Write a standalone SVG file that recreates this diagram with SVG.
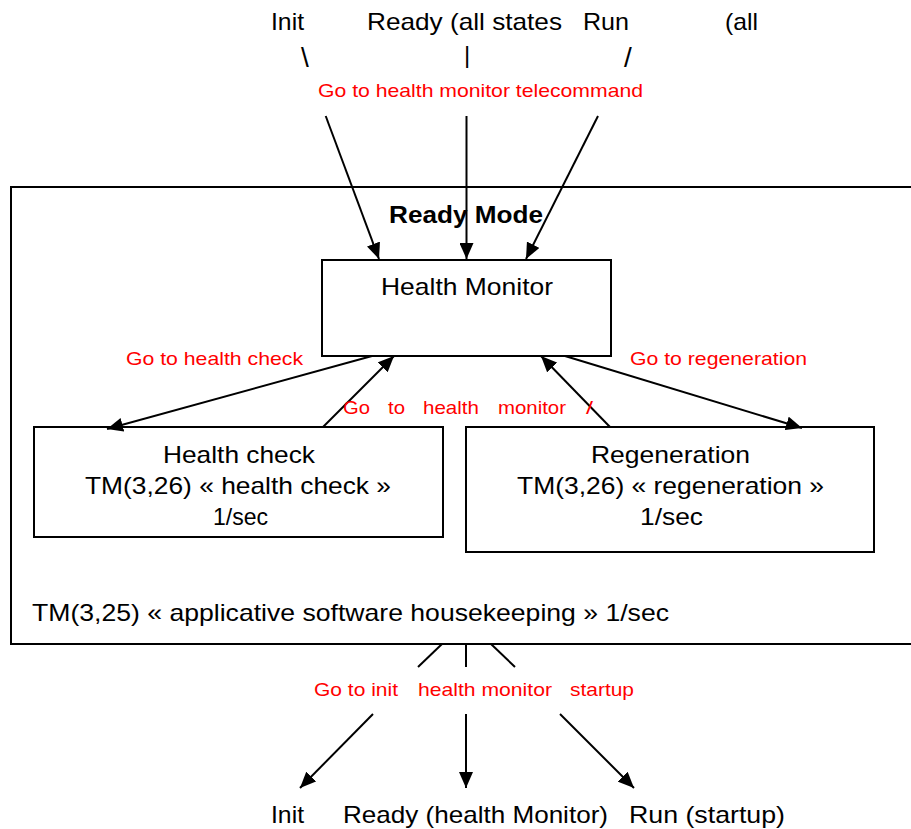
<svg xmlns="http://www.w3.org/2000/svg" width="911" height="829" viewBox="0 0 911 829">
<style>
.t{font-family:"Liberation Sans",Arial,sans-serif;font-size:24px;fill:#000}
.b{font-family:"Liberation Sans",Arial,sans-serif;font-size:23px;font-weight:bold;fill:#000}
.r{font-family:"Liberation Sans",Arial,sans-serif;font-size:19px;fill:#ff0000}
.s{font-family:"Liberation Sans",Arial,sans-serif;font-size:28px;fill:#000}
.box{fill:#fff;stroke:#000;stroke-width:2}
.c{stroke:#000;stroke-width:2;fill:none}
.ca{stroke:#000;stroke-width:2;fill:none;marker-end:url(#ah)}
</style>
<defs>
<marker id="ah" viewBox="0 0 16 14" refX="16" refY="7" markerWidth="16" markerHeight="14" markerUnits="userSpaceOnUse" orient="auto">
<path d="M0,0 L16,7 L0,14 z" fill="#000"/>
</marker>
</defs>
<rect width="911" height="829" fill="#fff"/>

<g id="ready-mode">
<rect class="box" x="11" y="187" width="920" height="457"/>
<text class="b" x="389" y="223" textLength="154" lengthAdjust="spacingAndGlyphs">Ready Mode</text>
<text class="t" x="32" y="621" textLength="637" lengthAdjust="spacingAndGlyphs">TM(3,25) « applicative software housekeeping » 1/sec</text>
</g>

<g id="top-states">
<text class="t" x="271" y="30" textLength="33" lengthAdjust="spacingAndGlyphs">Init</text>
<text class="t" x="367" y="30" textLength="195" lengthAdjust="spacingAndGlyphs">Ready (all states</text>
<text class="t" x="583" y="30" textLength="46" lengthAdjust="spacingAndGlyphs">Run</text>
<text class="t" x="725" y="30" textLength="33" lengthAdjust="spacingAndGlyphs">(all</text>
<text class="s" x="305" y="67" text-anchor="middle">\</text>
<text class="t" x="467" y="63" text-anchor="middle">|</text>
<text class="s" x="628" y="67" text-anchor="middle">/</text>
</g>

<g id="health-monitor">
<rect class="box" x="322" y="260" width="289" height="96"/>
<text class="t" x="381" y="295" textLength="172" lengthAdjust="spacingAndGlyphs">Health Monitor</text>
</g>

<g id="health-check">
<rect class="box" x="34" y="427" width="409" height="110"/>
<text class="t" x="163" y="463" textLength="152" lengthAdjust="spacingAndGlyphs">Health check</text>
<text class="t" x="85" y="494" textLength="306" lengthAdjust="spacingAndGlyphs">TM(3,26) « health check »</text>
<text class="t" x="213" y="525" textLength="55" lengthAdjust="spacingAndGlyphs">1/sec</text>
</g>

<g id="regeneration">
<rect class="box" x="466" y="427" width="408" height="125"/>
<text class="t" x="591" y="463" textLength="159" lengthAdjust="spacingAndGlyphs">Regeneration</text>
<text class="t" x="517" y="494" textLength="307" lengthAdjust="spacingAndGlyphs">TM(3,26) « regeneration »</text>
<text class="t" x="640" y="525" textLength="63" lengthAdjust="spacingAndGlyphs">1/sec</text>
</g>

<g id="bottom-states">
<text class="t" x="271" y="823" textLength="33" lengthAdjust="spacingAndGlyphs">Init</text>
<text class="t" x="343" y="823" textLength="265" lengthAdjust="spacingAndGlyphs">Ready (health Monitor)</text>
<text class="t" x="629" y="823" textLength="156" lengthAdjust="spacingAndGlyphs">Run (startup)</text>
</g>

<g id="connectors">
<line class="ca" x1="325.7" y1="116" x2="379" y2="259"/>
<line class="ca" x1="466.5" y1="116" x2="466.5" y2="259"/>
<line class="ca" x1="598" y1="116" x2="526" y2="259"/>
<line class="ca" x1="372" y1="356" x2="107" y2="429"/>
<line class="ca" x1="323" y1="427" x2="394" y2="356"/>
<line class="ca" x1="610" y1="427" x2="541" y2="356"/>
<line class="ca" x1="565" y1="356" x2="802" y2="428"/>
<line class="c" x1="442" y1="644" x2="418" y2="667"/>
<line class="c" x1="466" y1="644" x2="466" y2="667"/>
<line class="c" x1="491" y1="644" x2="515" y2="667"/>
<line class="ca" x1="373" y1="714" x2="300" y2="788"/>
<line class="ca" x1="466" y1="714" x2="466" y2="788"/>
<line class="ca" x1="560" y1="714" x2="634" y2="788"/>
<text class="r" x="318" y="97" textLength="325" lengthAdjust="spacingAndGlyphs">Go to health monitor telecommand</text>
<text class="r" x="126" y="365" textLength="177" lengthAdjust="spacingAndGlyphs">Go to health check</text>
<text class="r" x="630" y="365" textLength="177" lengthAdjust="spacingAndGlyphs">Go to regeneration</text>
<text class="r" x="343" y="414" textLength="27" lengthAdjust="spacingAndGlyphs">Go</text>
<text class="r" x="388" y="414" textLength="17" lengthAdjust="spacingAndGlyphs">to</text>
<text class="r" x="423" y="414" textLength="56" lengthAdjust="spacingAndGlyphs">health</text>
<text class="r" x="498" y="414" textLength="68" lengthAdjust="spacingAndGlyphs">monitor</text>
<text class="r" x="586" y="414" textLength="7" lengthAdjust="spacingAndGlyphs">/</text>
<text class="r" x="314" y="696" textLength="84" lengthAdjust="spacingAndGlyphs">Go to init</text>
<text class="r" x="418" y="696" textLength="134" lengthAdjust="spacingAndGlyphs">health monitor</text>
<text class="r" x="570" y="696" textLength="64" lengthAdjust="spacingAndGlyphs">startup</text>
</g>
</svg>
